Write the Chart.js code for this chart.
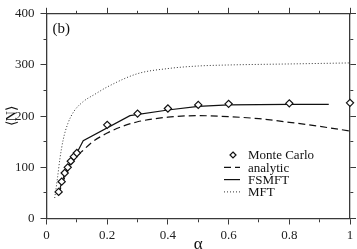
<!DOCTYPE html>
<html>
<head>
<meta charset="utf-8">
<script src="https://cdn.jsdelivr.net/npm/chart.js@4/dist/chart.umd.min.js"></script>
<style>
  html, body { margin: 0; padding: 0; background: #fff; }
  #wrap { width: 357px; height: 249px; }
</style>
</head>
<body>
<div id="wrap"><canvas id="chart"></canvas></div>
<script>
// Monte Carlo points
const mcAlpha = [0.04, 0.05, 0.06, 0.07, 0.08, 0.09, 0.1, 0.2, 0.3, 0.4, 0.5, 0.6, 0.8, 1.0];
const mcN = [52, 72, 89, 100, 112, 121, 128, 183, 205, 215, 222, 224, 225, 226];

// analytic curve
const anAlpha = [0.04, 0.05, 0.06, 0.07, 0.08, 0.09, 0.1, 0.12, 0.15, 0.2, 0.25, 0.3, 0.4, 0.5, 0.6, 0.7, 0.8, 0.9, 1.0];
const anN = [47, 65, 80, 93, 104, 114, 122, 133, 149, 167, 180, 189, 198, 201, 199, 195, 188, 180, 171];

// FSMFT curve
const fsAlpha = [0.04, 0.05, 0.06, 0.07, 0.08, 0.09, 0.1, 0.121, 0.275, 0.4, 0.5, 0.6, 0.8, 0.93];
const fsN = [50, 70, 87, 100, 112, 121, 128, 152, 201, 212, 219, 222, 223, 223];

// MFT curve
const mftAlpha = [0.027, 0.036, 0.044, 0.055, 0.07, 0.09, 0.12, 0.16, 0.2, 0.3, 0.4, 0.5, 0.6, 0.8, 1.0];
const mftN = [40, 78, 116, 154, 185, 209, 228, 243, 257, 283, 293, 298, 300, 302, 304];

const legendNames = ["Monte Carlo", "analytic", "FSMFT", "MFT"];

const SERIF = "Liberation Serif, serif";
const AXIS = "#3a3a3a";

Chart.defaults.font.family = SERIF;
Chart.defaults.color = "#222";

function pts(xs, ys) {
    return xs.map(function (x, i) { return { x: x, y: ys[i] }; });
}

function isMajor(v, step) {
    return Math.abs(Math.round(v / step) * step - v) < 1e-6;
}

// minor ticks are drawn half as long using a dash pattern
function dashFor(outFirst) {
    return function (ctx) {
        const v = ctx.tick ? ctx.tick.value : 0;
        const step = ctx.scale.axis === "x" ? 0.2 : 100;
        if (isMajor(v, step)) return [];
        return outFirst ? [0, 3, 3, 20] : [3, 20];
    };
}

function gridOpts(outFirst) {
    return {
        drawOnChartArea: false,
        drawTicks: true,
        tickLength: 6,
        color: AXIS,
        tickColor: AXIS,
        tickWidth: 1,
        tickBorderDash: dashFor(outFirst),
    };
}

// extra text: "(b)" and the in-plot legend
const annotate = {
    id: "annotate",
    afterDatasetsDraw: function (chart) {
        const ctx = chart.ctx;
        const a = chart.chartArea;
        ctx.save();
        ctx.fillStyle = "#111";
        ctx.font = "15px " + SERIF;
        ctx.textBaseline = "middle";
        ctx.textAlign = "left";
        ctx.fillText("(b)", a.left + 6, a.top + 15);

        const sx = 233, tx = 248, y0 = 155, dy = 12.3;
        ctx.font = "13px " + SERIF;
        chart.data.datasets.forEach(function (ds, i) {
            const y = y0 + i * dy;
            ctx.strokeStyle = ds.borderColor;
            ctx.lineWidth = ds.borderWidth;
            if (i === 0) {
                ctx.beginPath();
                ctx.moveTo(sx, y - 3);
                ctx.lineTo(sx + 3, y);
                ctx.lineTo(sx, y + 3);
                ctx.lineTo(sx - 3, y);
                ctx.closePath();
                ctx.fillStyle = "#fff";
                ctx.fill();
                ctx.stroke();
            } else {
                ctx.setLineDash(ds.borderDash || []);
                ctx.beginPath();
                ctx.moveTo(sx - 9, y);
                ctx.lineTo(sx + 7, y);
                ctx.stroke();
                ctx.setLineDash([]);
            }
            ctx.fillStyle = "#111";
            ctx.fillText(legendNames[i], tx, y + 1);
        });
        ctx.restore();
    },
};

const ctx = document.getElementById("chart").getContext("2d");
const chart = new Chart(ctx, {
    type: "scatter",
    data: {
        datasets: [
            {
                label: "Monte Carlo",
                data: pts(mcAlpha, mcN),
                showLine: false,
                clip: false,
                pointStyle: "rectRot",
                pointRadius: 3.6,
                pointBorderWidth: 1.2,
                pointBackgroundColor: "#fff",
                pointBorderColor: "#111",
                borderColor: "#111",
                borderWidth: 1.2,
                order: 0,
            },
            {
                label: "analytic",
                data: pts(anAlpha, anN),
                showLine: true,
                pointRadius: 0,
                borderColor: "#111",
                borderWidth: 1.2,
                borderDash: [7, 4],
                cubicInterpolationMode: "monotone",
                order: 2,
            },
            {
                label: "FSMFT",
                data: pts(fsAlpha, fsN),
                showLine: true,
                pointRadius: 0,
                borderColor: "#111",
                borderWidth: 1.2,
                tension: 0,
                order: 1,
            },
            {
                label: "MFT",
                data: pts(mftAlpha, mftN),
                showLine: true,
                pointRadius: 0,
                borderColor: "#333",
                borderWidth: 1,
                borderDash: [1, 2],
                cubicInterpolationMode: "monotone",
                order: 3,
            },
        ],
    },
    options: {
        responsive: true,
        maintainAspectRatio: false,
        animation: false,
        layout: { padding: 0 },
        plugins: {
            legend: { display: false },
            tooltip: { enabled: false },
        },
        scales: {
            x: {
                type: "linear",
                position: "bottom",
                min: 0,
                max: 1,
                ticks: {
                    stepSize: 0.1,
                    autoSkip: false,
                    maxRotation: 0,
                    padding: 3,
                    color: "#222",
                    font: { family: SERIF, size: 13 },
                    callback: function (v) {
                        return isMajor(v, 0.2) ? String(Math.round(v * 10) / 10) : "";
                    },
                },
                grid: gridOpts(false),
                border: { color: AXIS, width: 1.3 },
                title: {
                    display: true,
                    text: "α",
                    color: "#111",
                    font: { family: SERIF, size: 17 },
                    padding: { top: 0, bottom: -6 },
                },
                afterFit: function (s) { s.height = 30.5; },
            },
            x2: {
                type: "linear",
                position: "top",
                min: 0,
                max: 1,
                ticks: { stepSize: 0.1, display: false },
                grid: gridOpts(true),
                border: { color: AXIS, width: 1.3 },
                afterFit: function (s) { s.height = 6.5; },
            },
            y: {
                type: "linear",
                position: "left",
                min: 0,
                max: 400,
                ticks: {
                    stepSize: 50,
                    autoSkip: false,
                    padding: 6,
                    color: "#222",
                    font: { family: SERIF, size: 13 },
                    callback: function (v) {
                        return isMajor(v, 100) ? String(v) : "";
                    },
                },
                grid: gridOpts(true),
                border: { color: AXIS, width: 1.3 },
                title: {
                    display: true,
                    text: "⟨N⟩",
                    color: "#111",
                    font: { family: SERIF, size: 14 },
                    padding: { top: 4, bottom: 0 },
                },
                afterFit: function (s) { s.width = 46.5; },
            },
            y2: {
                type: "linear",
                position: "right",
                min: 0,
                max: 400,
                ticks: { stepSize: 50, display: false },
                grid: gridOpts(false),
                border: { color: AXIS, width: 1.3 },
                afterFit: function (s) { s.width = 7; },
            },
        },
    },
    plugins: [annotate],
});
</script>
</body>
</html>
